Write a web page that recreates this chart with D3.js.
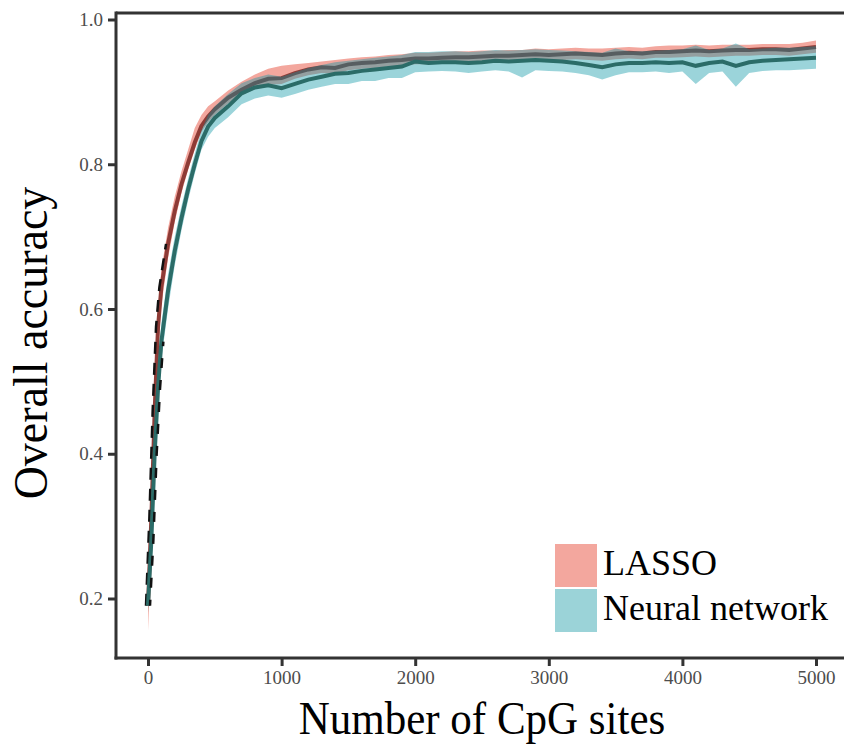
<!DOCTYPE html>
<html>
<head>
<meta charset="utf-8">
<script src="https://cdn.jsdelivr.net/npm/d3@7"></script>
<style>
  body { margin: 0; background: #fff; }
  svg { display: block; }
</style>
</head>
<body>
<svg id="chart" width="844" height="749"></svg>
<script>
// number of CpG sites
const sites = [0, 25, 50, 75, 100, 150, 200, 250, 300, 350, 400, 450, 500,
  600, 700, 800, 900, 1000, 1100, 1200, 1300, 1400, 1500, 1600, 1700, 1800, 1900,
  2000, 2100, 2200, 2300, 2400, 2500, 2600, 2700, 2800, 2900,
  3000, 3100, 3200, 3300, 3400, 3500, 3600, 3700, 3800, 3900,
  4000, 4100, 4200, 4300, 4400, 4500, 4600, 4700, 4800, 4900, 5000];

const lassoMean = [0.19, 0.31, 0.46, 0.575, 0.63, 0.69, 0.735, 0.772, 0.802, 0.83, 0.853, 0.866, 0.876,
  0.892, 0.903, 0.912, 0.918, 0.919, 0.926, 0.931, 0.934, 0.933, 0.938, 0.94, 0.941, 0.943, 0.944,
  0.946, 0.946, 0.947, 0.948, 0.948, 0.949, 0.95, 0.95, 0.951, 0.952,
  0.951, 0.952, 0.953, 0.952, 0.951, 0.953, 0.954, 0.953, 0.955, 0.955,
  0.956, 0.957, 0.956, 0.957, 0.958, 0.958, 0.959, 0.959, 0.958, 0.96, 0.962];
const lassoLo = [0.155, 0.27, 0.42, 0.545, 0.605, 0.67, 0.72, 0.76, 0.792, 0.82, 0.845, 0.858, 0.868,
  0.884, 0.895, 0.904, 0.91, 0.911, 0.918, 0.923, 0.926, 0.925, 0.93, 0.932, 0.933, 0.935, 0.936,
  0.938, 0.938, 0.939, 0.94, 0.94, 0.941, 0.942, 0.942, 0.943, 0.944,
  0.943, 0.944, 0.945, 0.944, 0.943, 0.945, 0.946, 0.945, 0.947, 0.947,
  0.948, 0.949, 0.948, 0.949, 0.95, 0.95, 0.951, 0.951, 0.95, 0.952, 0.954];
const lassoHi = [0.2, 0.34, 0.49, 0.6, 0.655, 0.712, 0.755, 0.79, 0.82, 0.85, 0.868, 0.88, 0.887,
  0.902, 0.914, 0.924, 0.932, 0.936, 0.938, 0.94, 0.942, 0.944, 0.946, 0.948, 0.949, 0.951, 0.952,
  0.954, 0.954, 0.955, 0.956, 0.956, 0.957, 0.957, 0.958, 0.958, 0.96,
  0.959, 0.96, 0.961, 0.96, 0.96, 0.961, 0.962, 0.961, 0.963, 0.964,
  0.964, 0.965, 0.964, 0.965, 0.965, 0.965, 0.966, 0.966, 0.966, 0.968, 0.971];

const nnMean = [0.19, 0.28, 0.4, 0.49, 0.555, 0.625, 0.68, 0.725, 0.765, 0.8, 0.832, 0.852, 0.864,
  0.88, 0.898, 0.906, 0.909, 0.905, 0.911, 0.917, 0.921, 0.925, 0.926, 0.929, 0.931, 0.933, 0.935,
  0.942, 0.94, 0.941, 0.941, 0.94, 0.941, 0.943, 0.942, 0.943, 0.944,
  0.943, 0.942, 0.94, 0.937, 0.934, 0.938, 0.94, 0.94, 0.941, 0.94,
  0.941, 0.936, 0.94, 0.942, 0.936, 0.941, 0.943, 0.944, 0.945, 0.946, 0.947];
const nnLo = [0.18, 0.26, 0.375, 0.465, 0.53, 0.6, 0.66, 0.708, 0.75, 0.787, 0.82, 0.838, 0.85,
  0.865, 0.883, 0.891, 0.895, 0.892, 0.897, 0.903, 0.907, 0.911, 0.911, 0.915, 0.915, 0.919, 0.919,
  0.927, 0.928, 0.929, 0.928, 0.926, 0.928, 0.93, 0.928, 0.92, 0.93,
  0.929, 0.928, 0.926, 0.923, 0.917, 0.923, 0.927, 0.927, 0.928, 0.926,
  0.928, 0.911, 0.926, 0.928, 0.907, 0.926, 0.929, 0.93, 0.93, 0.931, 0.932];
const nnHi = [0.2, 0.3, 0.425, 0.515, 0.58, 0.648, 0.7, 0.742, 0.78, 0.815, 0.847, 0.868, 0.88,
  0.897, 0.912, 0.919, 0.924, 0.921, 0.927, 0.933, 0.937, 0.941, 0.943, 0.945, 0.947, 0.949, 0.951,
  0.955, 0.955, 0.956, 0.956, 0.955, 0.956, 0.958, 0.957, 0.958, 0.959,
  0.958, 0.957, 0.956, 0.955, 0.954, 0.96, 0.956, 0.956, 0.957, 0.958,
  0.959, 0.964, 0.958, 0.96, 0.967, 0.959, 0.96, 0.961, 0.961, 0.962, 0.963];

const xTicks = [0, 1000, 2000, 3000, 4000, 5000];
const yTicks = [0.2, 0.4, 0.6, 0.8, 1.0];
const legendLabels = ["LASSO", "Neural network"];

const svg = d3.select("#chart");
const panelLeft = 116, panelRight = 844, panelTop = 13, panelBottom = 658;
const serif = "'Liberation Serif', 'DejaVu Serif', serif";

const x = d3.scaleLinear().domain([0, 5000]).range([148, 816]);
const y = d3.scaleLinear().domain([0.2, 1.0]).range([598.5, 19.5]);

function rows(mean, lo, hi) {
    return sites.map((s, i) => ({x: s, m: mean[i], lo: lo[i], hi: hi[i]}));
}
const lasso = rows(lassoMean, lassoLo, lassoHi);
const nn = rows(nnMean, nnLo, nnHi);

const area = d3.area().x(d => x(d.x)).y0(d => y(d.lo)).y1(d => y(d.hi));
const line = d3.line().x(d => x(d.x)).y(d => y(d.m));

const plot = svg.append("g");

// LASSO ribbon + line
plot.append("path").attr("d", area(lasso)).attr("fill", "#f3a79e");
plot.append("path").attr("d", line(lasso))
    .attr("fill", "none").attr("stroke", "#8e3b36").attr("stroke-width", 4);

// black dashes on the steep start
plot.append("path").attr("d", d3.line().x(d => x(d.x) - 2).y(d => y(d.m))(lasso.slice(0, 6)))
    .attr("fill", "none").attr("stroke", "#111").attr("stroke-width", 2.5)
    .attr("stroke-dasharray", "12,9");

// Neural network ribbon + line
plot.append("path").attr("d", area(nn)).attr("fill", "rgb(5,148,162)").attr("fill-opacity", 0.4);
plot.append("path").attr("d", line(nn))
    .attr("fill", "none").attr("stroke", "#2b6c68").attr("stroke-width", 4);
plot.append("path").attr("d", d3.line().x(d => x(d.x) + 2).y(d => y(d.m))(nn.slice(0, 5)))
    .attr("fill", "none").attr("stroke", "#111").attr("stroke-width", 2.5)
    .attr("stroke-dasharray", "10,12").attr("stroke-dashoffset", 4);

// frame
svg.append("line").attr("x1", panelLeft).attr("x2", panelRight).attr("y1", panelTop).attr("y2", panelTop)
    .attr("stroke", "#333").attr("stroke-width", 3);

const xAxis = svg.append("g").attr("transform", `translate(0,${panelBottom})`)
    .call(d3.axisBottom(x).tickValues(xTicks).tickSize(8).tickPadding(5).tickFormat(d3.format("d")));
xAxis.select(".domain").remove();
xAxis.append("line").attr("x1", panelLeft - 1.5).attr("x2", panelRight).attr("stroke", "#333").attr("stroke-width", 3);

const yAxis = svg.append("g").attr("transform", `translate(${panelLeft},0)`)
    .call(d3.axisLeft(y).tickValues(yTicks).tickSize(8).tickPadding(5).tickFormat(d3.format(".1f")));
yAxis.select(".domain").remove();
yAxis.append("line").attr("y1", panelTop - 1.5).attr("y2", panelBottom + 1.5).attr("stroke", "#333").attr("stroke-width", 3);

svg.selectAll(".tick line").attr("stroke", "#333").attr("stroke-width", 3);
svg.selectAll(".tick text")
    .attr("fill", "#4d4d4d")
    .style("font-family", serif)
    .style("font-size", "19px");

// axis titles
svg.append("text").attr("transform", "translate(482,734) scale(1,1.06)").attr("text-anchor", "middle")
    .style("font-family", serif).style("font-size", "43px")
    .attr("fill", "#000").text("Number of CpG sites");
svg.append("text").attr("transform", "translate(47,343) scale(1.04,1) rotate(-90)").attr("text-anchor", "middle")
    .style("font-family", serif).style("font-size", "46px")
    .attr("fill", "#000").text("Overall accuracy");

// legend
const legendColors = ["#f3a79e", "#9bd3d8"];
const legend = svg.append("g").attr("transform", "translate(555,544)");
legendLabels.forEach((lab, i) => {
    legend.append("rect").attr("x", 0).attr("y", i * 45).attr("width", 42).attr("height", 43)
        .attr("fill", legendColors[i]);
    legend.append("text").attr("x", 48).attr("y", i * 45 + 31)
        .style("font-family", serif).style("font-size", "36px")
        .attr("fill", "#000").text(lab);
});
</script>
</body>
</html>
